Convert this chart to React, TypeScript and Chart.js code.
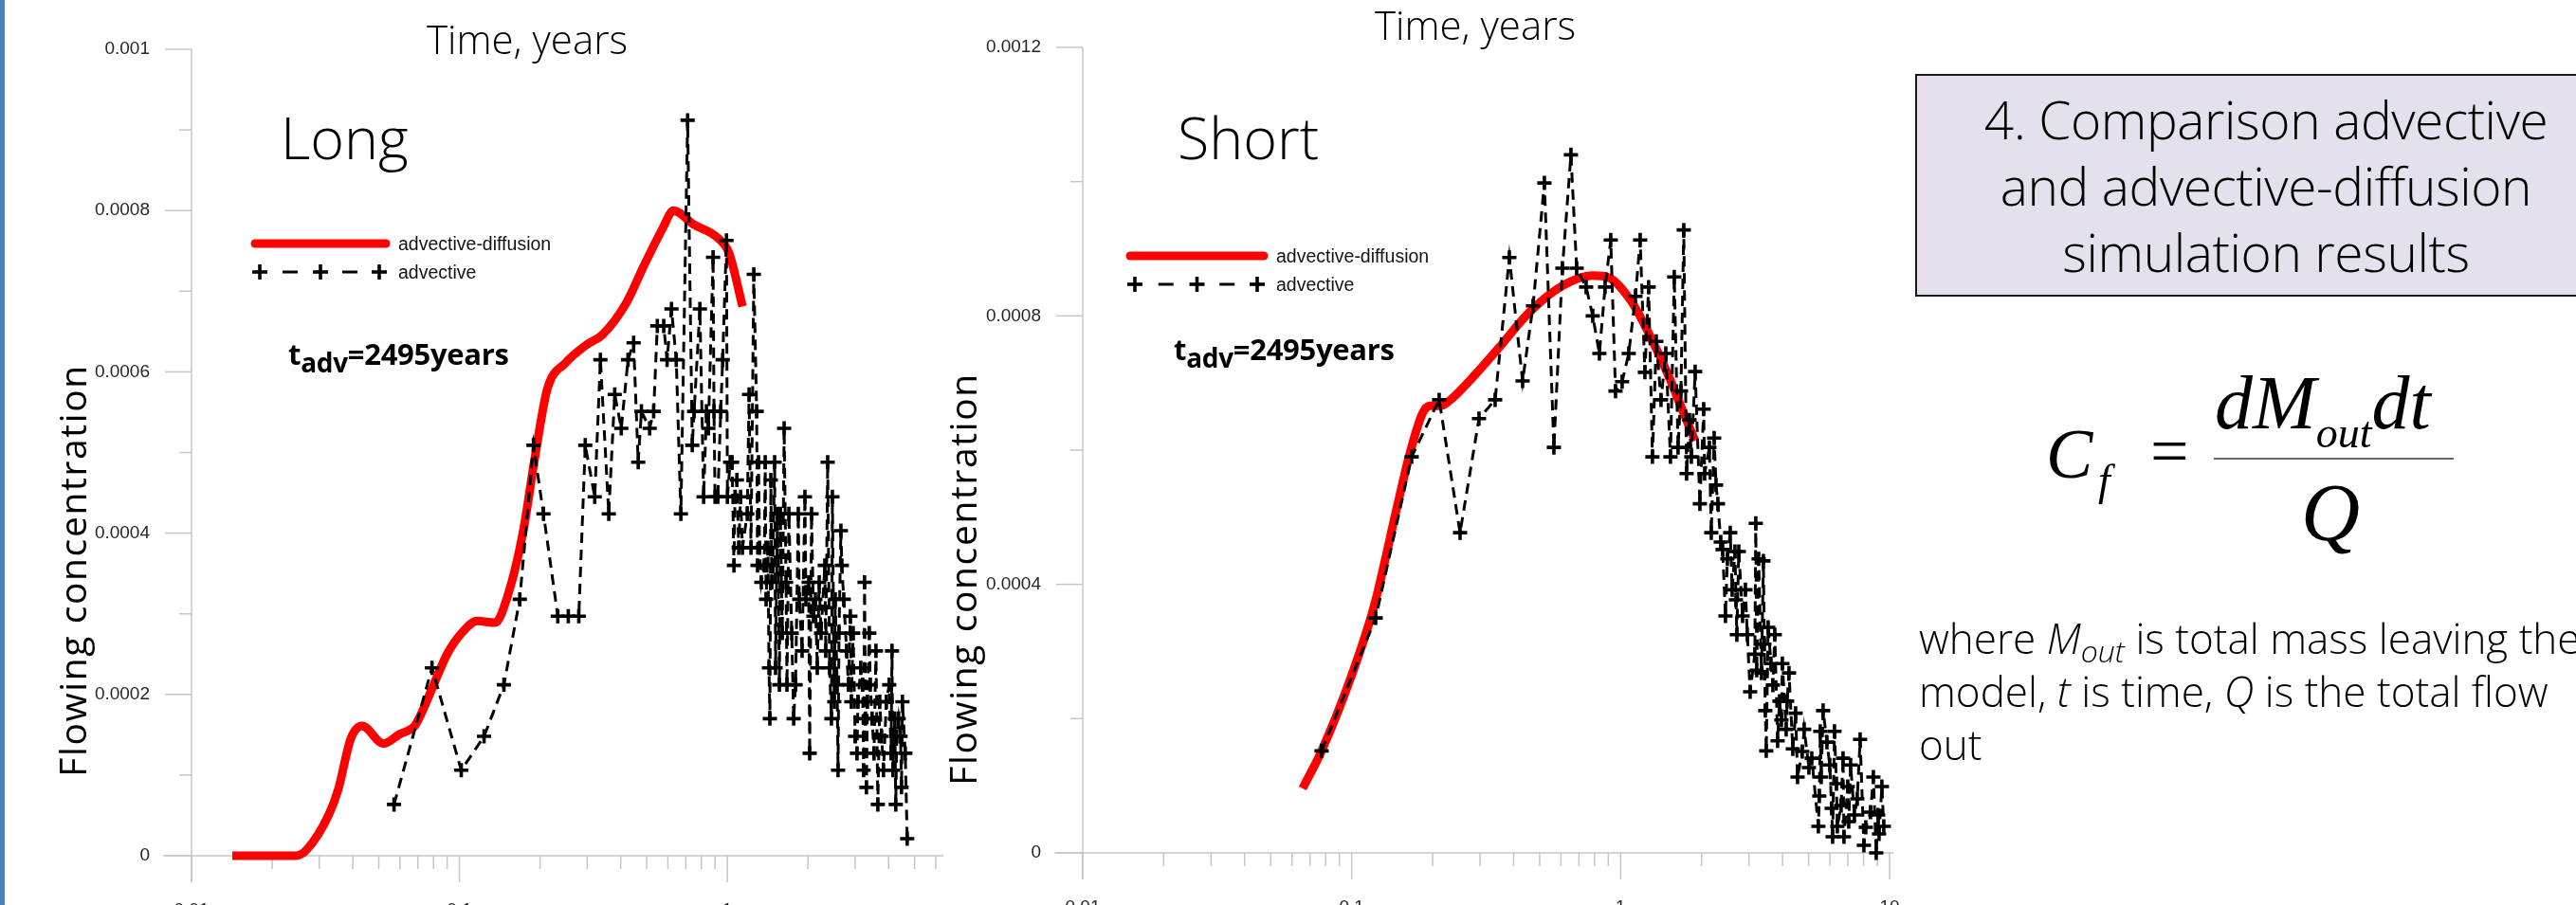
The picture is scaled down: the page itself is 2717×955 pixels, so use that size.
import React, { useEffect, useRef } from "react";
import { Chart, registerables } from "chart.js";

Chart.register(...registerables);

// ---------------- Left chart ("Long") ----------------
const leftDiffT = [0.0142, 0.0245, 0.027, 0.0325, 0.0353, 0.0393, 0.0433, 0.0521, 0.06, 0.0677, 0.0711, 0.079, 0.09, 0.1025, 0.1167, 0.136, 0.151, 0.1725, 0.192, 0.213, 0.249, 0.3, 0.342, 0.419, 0.489, 0.576, 0.629, 0.747, 0.914, 1.016, 1.14];
const leftDiffC = [0, 0, 0.000008, 0.0000505, 0.0000823, 0.000145, 0.000161, 0.000139, 0.000151, 0.00016, 0.000172, 0.000207, 0.00025, 0.000277, 0.000291, 0.000289, 0.000321, 0.0004, 0.000497, 0.000579, 0.000611, 0.000634, 0.000646, 0.000685, 0.000732, 0.000779, 0.0008, 0.000783, 0.000767, 0.000747, 0.000681];

const leftAdvT = [0.057, 0.079, 0.1016, 0.1236, 0.1466, 0.168, 0.189, 0.206, 0.233, 0.255, 0.279, 0.295, 0.32, 0.336, 0.361, 0.38, 0.402, 0.426, 0.447, 0.465, 0.478, 0.513, 0.531, 0.548, 0.579, 0.596, 0.619, 0.645, 0.671, 0.711, 0.74, 0.752, 0.79, 0.816, 0.836, 0.85, 0.885, 0.892, 0.9, 0.922, 0.945, 0.961, 0.993, 1.001, 1.025, 1.042, 1.059, 1.068, 1.086, 1.103, 1.121, 1.139, 1.187, 1.206, 1.226, 1.256, 1.287, 1.297, 1.308, 1.319, 1.34, 1.374, 1.385, 1.396, 1.419, 1.431, 1.442, 1.454, 1.466, 1.478, 1.502, 1.514, 1.539, 1.565, 1.578, 1.604, 1.63, 1.657, 1.67, 1.698, 1.74, 1.769, 1.798, 1.841, 1.856, 1.902, 1.949, 1.965, 2.013, 2.03, 2.063, 2.097, 2.132, 2.167, 2.203, 2.239, 2.312, 2.331, 2.37, 2.409, 2.448, 2.468, 2.508, 2.529, 2.57, 2.591, 2.612, 2.655, 2.677, 2.721, 2.788, 2.834, 2.88, 2.904, 2.951, 3.0, 3.049, 3.074, 3.15, 3.201, 3.227, 3.254, 3.28, 3.307, 3.334, 3.389, 3.417, 3.473, 3.53, 3.588, 3.647, 3.707, 3.767, 3.829, 3.924, 4.021, 4.086, 4.119, 4.153, 4.221, 4.255, 4.29, 4.36, 4.433, 4.47, 4.506, 4.617, 4.693];
const leftAdvC = [0.0000636, 0.000233, 0.000106, 0.000148, 0.000212, 0.000318, 0.000509, 0.000424, 0.000297, 0.000297, 0.000297, 0.000509, 0.000445, 0.000615, 0.000424, 0.000572, 0.00053, 0.000615, 0.000636, 0.000488, 0.000551, 0.00053, 0.000551, 0.000657, 0.000657, 0.000615, 0.000678, 0.000615, 0.000424, 0.000912, 0.000509, 0.000551, 0.000678, 0.000445, 0.000551, 0.00053, 0.000742, 0.000551, 0.000445, 0.000445, 0.000551, 0.000615, 0.000763, 0.000445, 0.000488, 0.000488, 0.00036, 0.000445, 0.000466, 0.000382, 0.000445, 0.000382, 0.000424, 0.000572, 0.000382, 0.000721, 0.000551, 0.00036, 0.000488, 0.000382, 0.000339, 0.00036, 0.000488, 0.000318, 0.000382, 0.000233, 0.00017, 0.000466, 0.000339, 0.00036, 0.000488, 0.000233, 0.000424, 0.000212, 0.000424, 0.000276, 0.00053, 0.000339, 0.000212, 0.000424, 0.000276, 0.00017, 0.000212, 0.000424, 0.000318, 0.000254, 0.000445, 0.000318, 0.000339, 0.000127, 0.000424, 0.000297, 0.000318, 0.000233, 0.000339, 0.000276, 0.00036, 0.000254, 0.000488, 0.000233, 0.00017, 0.000445, 0.000191, 0.000318, 0.000212, 0.000106, 0.000276, 0.000403, 0.00036, 0.000318, 0.000254, 0.000212, 0.000297, 0.000191, 0.000276, 0.000148, 0.000127, 0.000191, 0.000233, 0.000212, 0.000106, 0.000339, 0.00017, 0.0000848, 0.000191, 0.000276, 0.000212, 0.00017, 0.000127, 0.000254, 0.0000636, 0.000191, 0.000148, 0.000106, 0.000191, 0.000212, 0.000127, 0.000254, 0.000106, 0.00017, 0.0000636, 0.000148, 0.00017, 0.000148, 0.0000848, 0.000191, 0.000127, 0.0000212];

const leftYMajor = [0, 0.0002, 0.0004, 0.0006, 0.0008, 0.001];
const leftYLabels = ["0", "0.0002", "0.0004", "0.0006", "0.0008", "0.001"];
const leftYMinor = [0.0001, 0.0003, 0.0005, 0.0007, 0.0009];
const leftXMajor = [0.01, 0.1, 1];
const leftXLabels = ["0.01", "0.1", "1"];
const leftXMinor = [0.02, 0.03, 0.04, 0.05, 0.06, 0.07, 0.08, 0.09, 0.2, 0.3, 0.4, 0.5, 0.6, 0.7, 0.8, 0.9, 2, 3, 4, 5, 6];

// ---------------- Right chart ("Short") ----------------
const rightDiffT = [0.0657, 0.0773, 0.0978, 0.121, 0.148, 0.164, 0.183, 0.195, 0.215, 0.233, 0.268, 0.35, 0.457, 0.603, 0.787, 0.904, 1.09, 1.28, 1.51, 1.68, 1.89];
const rightDiffC = [0.000096, 0.000152, 0.000254, 0.000367, 0.000518, 0.000593, 0.000654, 0.000666, 0.000666, 0.000675, 0.000699, 0.000751, 0.000805, 0.000844, 0.00086, 0.000857, 0.000823, 0.000772, 0.00071, 0.000664, 0.000614];

const rightAdvT = [0.0773, 0.1228, 0.1671, 0.2115, 0.2529, 0.2974, 0.3415, 0.3857, 0.432, 0.4724, 0.5206, 0.5648, 0.6074, 0.6535, 0.6863, 0.7443, 0.7877, 0.8337, 0.8754, 0.919, 0.9572, 1.013, 1.072, 1.135, 1.182, 1.231, 1.271, 1.313, 1.357, 1.413, 1.472, 1.532, 1.583, 1.635, 1.676, 1.717, 1.759, 1.803, 1.832, 1.893, 1.971, 2.036, 2.053, 2.138, 2.173, 2.227, 2.263, 2.3, 2.357, 2.395, 2.454, 2.494, 2.556, 2.598, 2.662, 2.684, 2.705, 2.75, 2.841, 2.911, 2.958, 3.031, 3.155, 3.181, 3.207, 3.26, 3.341, 3.395, 3.423, 3.451, 3.479, 3.536, 3.623, 3.683, 3.743, 3.835, 3.898, 3.962, 3.994, 4.126, 4.159, 4.227, 4.367, 4.474, 4.548, 4.736, 4.814, 5.013, 5.137, 5.436, 5.48, 5.525, 5.57, 5.662, 5.849, 5.993, 6.091, 6.141, 6.241, 6.344, 6.395, 6.605, 6.714, 6.768, 6.992, 7.049, 7.164, 7.401, 7.584, 7.771, 8.027, 8.159, 8.495, 8.705, 8.92, 9.065, 9.139, 9.363, 9.516];
const rightAdvC = [0.000152, 0.00035, 0.00059, 0.000675, 0.000477, 0.000647, 0.000675, 0.000887, 0.000703, 0.000815, 0.000998, 0.000604, 0.000871, 0.00104, 0.000871, 0.000843, 0.0008, 0.000744, 0.000843, 0.000913, 0.000688, 0.000702, 0.000744, 0.000829, 0.000913, 0.000716, 0.000843, 0.00059, 0.000762, 0.000675, 0.000744, 0.00059, 0.000858, 0.000604, 0.000688, 0.000928, 0.000565, 0.000645, 0.00059, 0.000717, 0.00052, 0.000661, 0.000565, 0.000604, 0.000477, 0.000618, 0.000548, 0.00052, 0.000463, 0.000452, 0.000353, 0.000438, 0.000477, 0.000392, 0.000449, 0.000377, 0.000325, 0.000449, 0.000353, 0.000392, 0.000325, 0.00024, 0.000296, 0.000491, 0.000272, 0.000438, 0.000268, 0.000435, 0.000311, 0.000212, 0.000152, 0.000336, 0.000282, 0.00025, 0.000325, 0.000167, 0.000226, 0.000198, 0.000282, 0.000184, 0.000226, 0.000268, 0.000155, 0.000208, 0.000113, 0.000151, 0.000184, 0.000127, 0.000141, 0.0000395, 0.0000847, 0.000181, 0.000113, 0.000212, 0.000165, 0.000131, 0.0000664, 0.000024, 0.000181, 0.000103, 0.0000395, 0.0000706, 0.000141, 0.000024, 0.0000988, 0.0000466, 0.000131, 0.0000565, 0.0000805, 0.000169, 0.0000113, 0.0000381, 0.0000607, 0.000113, 0, 0.0000565, 0.0000282, 0.0000988, 0.0000395];

const rightYMajor = [0, 0.0004, 0.0008, 0.0012];
const rightYLabels = ["0", "0.0004", "0.0008", "0.0012"];
const rightYMinor = [0.0002, 0.0006, 0.001];
const rightXMajor = [0.01, 0.1, 1, 10];
const rightXLabels = ["0.01", "0.1", "1", "10"];
const rightXMinor = [0.02, 0.03, 0.04, 0.05, 0.06, 0.07, 0.08, 0.09, 0.2, 0.3, 0.4, 0.5, 0.6, 0.7, 0.8, 0.9, 2, 3, 4, 5, 6, 7, 8, 9];

const SERIES_DIFF = "advective-diffusion";
const SERIES_ADV = "advective";

type AxisCfg = {
  yMajor: number[]; yLabels: string[]; yMinor: number[];
  xMajor: number[]; xLabels: string[]; xMinor: number[];
};

function axesPlugin(cfg: AxisCfg) {
  return {
    id: "customAxes",
    beforeDatasetsDraw(chart: any) {
      const ctx = chart.ctx;
      const xs = chart.scales.x;
      const ys = chart.scales.y;
      const a = chart.chartArea;
      const yMajLen = 28, yMinLen = 13, xMajLen = 28, xMinLen = 14;
      ctx.save();
      ctx.strokeStyle = "#c6c6c6";
      ctx.lineWidth = 1.5;
      const line = (x1: number, y1: number, x2: number, y2: number) => {
        ctx.beginPath(); ctx.moveTo(x1, y1); ctx.lineTo(x2, y2); ctx.stroke();
      };
      line(a.left, a.top, a.left, a.bottom + xMajLen);
      line(a.left - yMajLen - 2, a.bottom, a.right + 4, a.bottom);
      ctx.fillStyle = "#262626";
      ctx.font = '19px "Liberation Sans", Arial, sans-serif';
      ctx.textAlign = "right";
      ctx.textBaseline = "middle";
      cfg.yMajor.forEach((v, i) => {
        const y = ys.getPixelForValue(v);
        line(a.left - yMajLen, y, a.left, y);
        ctx.fillText(cfg.yLabels[i], a.left - yMajLen - 16, y);
      });
      cfg.yMinor.forEach((v) => {
        const y = ys.getPixelForValue(v);
        line(a.left - yMinLen, y, a.left, y);
      });
      ctx.textAlign = "center";
      ctx.textBaseline = "top";
      cfg.xMajor.forEach((v, i) => {
        const x = xs.getPixelForValue(v);
        line(x, a.bottom, x, a.bottom + xMajLen);
        ctx.fillText(cfg.xLabels[i], x, a.bottom + 48);
      });
      cfg.xMinor.forEach((v) => {
        const x = xs.getPixelForValue(v);
        line(x, a.bottom, x, a.bottom + xMinLen);
      });
      ctx.restore();
    },
  };
}

function makeChart(canvas: HTMLCanvasElement, opts: any) {
  const adv = opts.advT.map((t: number, i: number) => ({ x: t, y: opts.advC[i] }));
  const diff = opts.diffT.map((t: number, i: number) => ({ x: t, y: opts.diffC[i] }));
  return new Chart(canvas, {
    type: "line",
    data: {
      datasets: [
        {
          label: SERIES_ADV,
          data: adv,
          borderColor: "#000",
          borderWidth: 3,
          borderDash: [11, 7],
          pointStyle: "cross",
          pointRadius: 7.5,
          pointBorderWidth: 3.6,
          pointBorderColor: "#000",
          pointBackgroundColor: "#000",
          tension: 0,
          order: 1,
          clip: false,
        } as any,
        {
          label: SERIES_DIFF,
          data: diff,
          borderColor: "#ff0000",
          borderWidth: 9,
          pointRadius: 0,
          cubicInterpolationMode: "monotone",
          borderCapStyle: "butt",
          borderJoinStyle: "round",
          order: 2,
          clip: false,
        } as any,
      ],
    },
    options: {
      animation: false,
      responsive: false,
      maintainAspectRatio: false,
      events: [],
      layout: { padding: opts.padding },
      plugins: { legend: { display: false }, tooltip: { enabled: false } },
      scales: {
        x: { type: "logarithmic", min: 0.01, max: opts.xMax, display: false },
        y: { type: "linear", min: 0, max: opts.yMax, display: false },
      },
    },
    plugins: [axesPlugin(opts.axes)],
  });
}

const sans = "'Open Sans', 'Lato', sans-serif";
const arial = "'Liberation Sans', Arial, sans-serif";
const serif = "'Liberation Serif', 'Times New Roman', serif";

function Legend({ x0, x1, y, tx }: { x0: number; x1: number; y: number; tx: number }) {
  const y2 = y + 30;
  const mid = (x0 + x1) / 2;
  const marks = [x0 + 5, mid, x1 - 7];
  return (
    <g>
      <line x1={x0} y1={y} x2={x1} y2={y} stroke="#ff0000" strokeWidth={9} strokeLinecap="round" />
      <text x={tx} y={y + 7} fontFamily={arial} fontSize={19.5} fill="#111">{SERIES_DIFF}</text>
      {[0, 1].map((k) => {
        const c = (marks[k] + marks[k + 1]) / 2;
        return <line key={k} x1={c - 8} y1={y2} x2={c + 8} y2={y2} stroke="#000" strokeWidth={3} />;
      })}
      {marks.map((m, k) => (
        <g key={"m" + k}>
          <line x1={m - 8} y1={y2} x2={m + 8} y2={y2} stroke="#000" strokeWidth={3.6} />
          <line x1={m} y1={y2 - 8} x2={m} y2={y2 + 8} stroke="#000" strokeWidth={3.6} />
        </g>
      ))}
      <text x={tx} y={y2 + 7} fontFamily={arial} fontSize={19.5} fill="#111">{SERIES_ADV}</text>
    </g>
  );
}

export default function App() {
  const leftRef = useRef<HTMLCanvasElement>(null);
  const rightRef = useRef<HTMLCanvasElement>(null);

  useEffect(() => {
    const c1 = makeChart(leftRef.current!, {
      advT: leftAdvT, advC: leftAdvC, diffT: leftDiffT, diffC: leftDiffC,
      xMax: 6.2, yMax: 0.001,
      padding: { left: 202, right: 19, top: 52, bottom: 52 },
      axes: { yMajor: leftYMajor, yLabels: leftYLabels, yMinor: leftYMinor, xMajor: leftXMajor, xLabels: leftXLabels, xMinor: leftXMinor },
    });
    const c2 = makeChart(rightRef.current!, {
      advT: rightAdvT, advC: rightAdvC, diffT: rightDiffT, diffC: rightDiffC,
      xMax: 10, yMax: 0.0012,
      padding: { left: 137, right: 22, top: 50, bottom: 55 },
      axes: { yMajor: rightYMajor, yLabels: rightYLabels, yMinor: rightYMinor, xMajor: rightXMajor, xLabels: rightXLabels, xMinor: rightXMinor },
    });
    return () => { c1.destroy(); c2.destroy(); };
  }, []);

  const tadv = (x: number, y: number) => (
    <text x={x} y={y} fontFamily={sans} fontWeight={700} fontSize={31} letterSpacing={-0.3} fill="#000">t<tspan fontSize={28} dy={8}>adv</tspan><tspan dy={-8}>=2495years</tspan></text>
  );

  return (
    <div style={{ position: "fixed", left: 0, top: 0, width: 2717, height: 955, overflow: "hidden", background: "#fff" }}>
      <canvas ref={leftRef} width={1010} height={955} style={{ position: "absolute", left: 0, top: 0, width: 1010, height: 955 }} />
      <canvas ref={rightRef} width={1010} height={955} style={{ position: "absolute", left: 1005, top: 0, width: 1010, height: 955 }} />
      <svg width={2717} height={955} style={{ position: "absolute", left: 0, top: 0, pointerEvents: "none" }}>
        <rect x={0} y={0} width={5} height={955} fill="#4f7fc0" />

        {/* left chart texts */}
        <text x={556} y={57} textAnchor="middle" fontFamily={sans} fontWeight={300} fontSize={42} fill="#000">Time, years</text>
        <text x={296} y={168} fontFamily={sans} fontWeight={300} fontSize={61} fill="#000">Long</text>
        {tadv(304, 385)}
        <text transform="translate(91,602) rotate(-90)" textAnchor="middle" fontFamily={sans} fontSize={39} letterSpacing={1.6} fill="#000">Flowing concentration</text>
        <Legend x0={269} x1={407} y={257} tx={420} />

        {/* right chart texts */}
        <text x={1556} y={42} textAnchor="middle" fontFamily={sans} fontWeight={300} fontSize={42} fill="#000">Time, years</text>
        <text x={1242} y={168} fontFamily={sans} fontWeight={300} fontSize={61} fill="#000">Short</text>
        {tadv(1238, 380)}
        <text transform="translate(1030,611) rotate(-90)" textAnchor="middle" fontFamily={sans} fontSize={39} letterSpacing={1.6} fill="#000">Flowing concentration</text>
        <Legend x0={1192} x1={1333} y={270} tx={1346} />

        {/* title box */}
        <rect x={2021} y={79} width={780} height={233} fill="#e5e0ec" stroke="#1a1a1a" strokeWidth={2} />
        <text x={2390} y={147} textAnchor="middle" fontFamily={sans} fontWeight={300} fontSize={55} letterSpacing={-0.4} fill="#000">4. Comparison advective</text>
        <text x={2390} y={217} textAnchor="middle" fontFamily={sans} fontWeight={300} fontSize={55} letterSpacing={-0.4} fill="#000">and advective-diffusion</text>
        <text x={2390} y={287} textAnchor="middle" fontFamily={sans} fontWeight={300} fontSize={55} letterSpacing={-0.4} fill="#000">simulation results</text>

        {/* formula */}
        <text x={2158} y={504} fontFamily={serif} fontStyle="italic" fontSize={74} fill="#000">C</text>
        <text x={2213} y={522} fontFamily={serif} fontStyle="italic" fontSize={46} fill="#000">f</text>
        <text x={2268} y={500} fontFamily={serif} fontSize={72} fill="#000">=</text>
        <text x={2336} y={452} fontFamily={serif} fontStyle="italic" fontSize={80} fill="#000">dM<tspan fontSize={46} dy={20}>out</tspan><tspan dy={-20}>dt</tspan></text>
        <line x1={2335} y1={484} x2={2588} y2={484} stroke="#666" strokeWidth={2} />
        <text x={2458} y={570} textAnchor="middle" fontFamily={serif} fontStyle="italic" fontSize={86} fill="#000">Q</text>

        {/* explanation */}
        <text x={2024} y={690} fontFamily={sans} fontWeight={300} fontSize={44} fill="#000">where <tspan fontStyle="italic">M</tspan><tspan fontStyle="italic" fontSize={32} dy={9}>out</tspan><tspan dy={-9}> is total mass leaving the</tspan></text>
        <text x={2024} y={746} fontFamily={sans} fontWeight={300} fontSize={44} fill="#000">model, <tspan fontStyle="italic">t</tspan> is time, <tspan fontStyle="italic">Q</tspan> is the total flow</text>
        <text x={2024} y={802} fontFamily={sans} fontWeight={300} fontSize={44} fill="#000">out</text>
      </svg>
    </div>
  );
}
